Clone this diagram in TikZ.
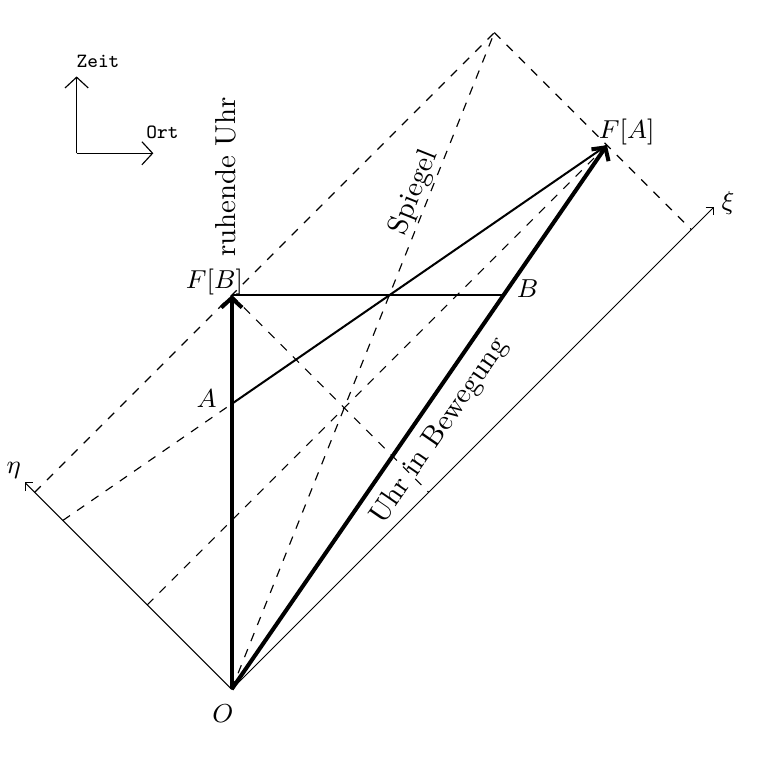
\documentclass[tikz,border=0pt]{standalone}
\usetikzlibrary{arrows.meta}
\tikzset{
  uhr/.style={line width=1.4pt, -{Straight Barb[length=3.3pt,width=7.2pt]}},
  achse/.style={line width=0.35pt, -{Straight Barb[length=2pt,width=4pt]}},
  richtung/.style={line width=0.4pt, -{Straight Barb[length=3.7pt,width=8pt]}},
  licht/.style={dashed, line width=0.4pt},
  linie/.style={line width=0.7pt},
  marke/.style={font=\small},
  wort/.style={font=\scriptsize\ttfamily},
}
\begin{document}
\begin{tikzpicture}[x=1.2cm, y=1.2cm]
\useasboundingbox (-2.352,-0.799) rectangle (5.445,6.998);
\coordinate (O) at (0,0);
\coordinate (A) at (0,2.897);
\coordinate (FB) at (0,4);
\coordinate (B) at (2.759,4);
\coordinate (FA) at (3.810,5.524);
\coordinate (S) at (2.667,6.667);
\coordinate (xi) at (4.9,4.9);
\coordinate (eta) at (-2.1,2.1);
\coordinate (eta1) at (-2,2);
\coordinate (eta2) at (-1.714,1.714);
\coordinate (eta3) at (-0.857,0.857);
\coordinate (xi1) at (4.667,4.667);
\coordinate (xi2) at (2,2);
\coordinate (K) at (-1.574,5.442);
\coordinate (zeit) at (-1.574,6.222);
\coordinate (ort) at (-0.795,5.442);
\draw[licht] (eta1) -- (FB) -- (S);
\draw[licht] (eta2) -- (A);
\draw[licht] (eta3) -- (FA);
\draw[licht] (S) -- (FA) -- (xi1);
\draw[licht] (FB) -- (xi2);
\draw[licht] (O) -- node[pos=0.748, sloped, above, inner sep=0.5pt] (spiegel) {Spiegel} (S);
\draw[achse] (O) -- (xi);
\draw[achse] (O) -- (eta);
\draw[richtung] (K) -- (zeit);
\draw[richtung] (K) -- (ort);
\draw[linie] (FB) -- (B);
\draw[linie] (A) -- (FA);
\draw[uhr] (O) -- (FB);
\draw[uhr] (O) -- node[midway, sloped, below] (bewegt) {Uhr in Bewegung} (FA);
\node (ruhend) at (-0.06,5.2) [rotate=90] {ruhende Uhr};
\node (lO) at (-0.088,-0.251) [marke] {$O$};
\node (lA) at (-0.254,2.949) [marke] {$A$};
\node (lB) at (3.005,4.064) [marke] {$B$};
\node (lFB) at (-0.175,4.135) [marke] {$F[B]$};
\node (lFA) at (4.01,5.657) [marke] {$F[A]$};
\node (lxi) at (5.04,4.94) [marke] {$\xi$};
\node (leta) at (-2.213,2.226) [marke] {$\eta$};
\node (lzeit) at (-1.357,6.374) [wort] {Zeit};
\node (lort) at (-0.703,5.653) [wort] {Ort};
\end{tikzpicture}
\end{document}
